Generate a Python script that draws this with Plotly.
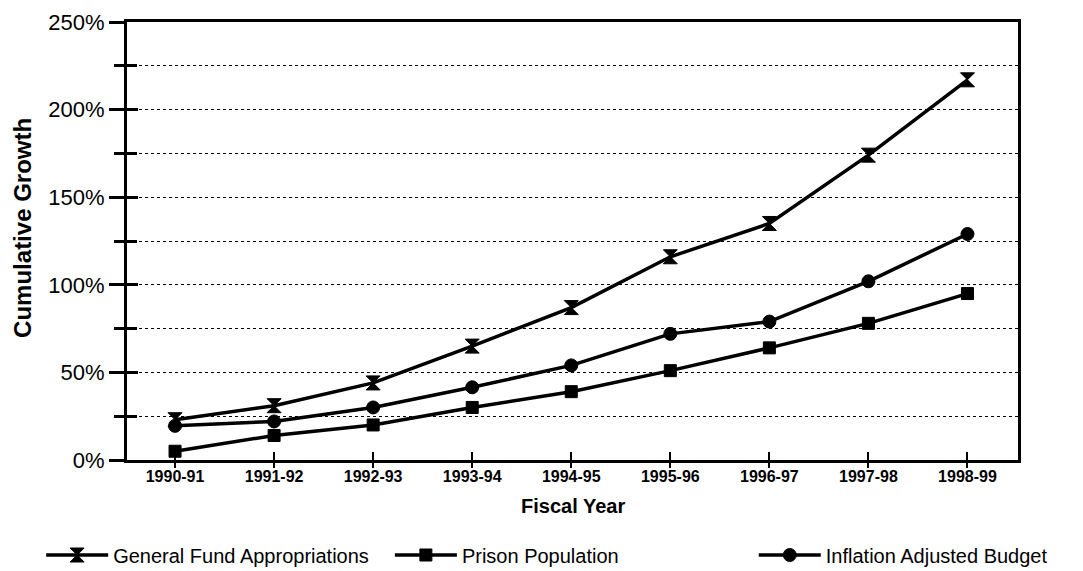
import plotly.graph_objects as go

years = ["1990-91", "1991-92", "1992-93", "1993-94", "1994-95",
         "1995-96", "1996-97", "1997-98", "1998-99"]
general_fund = [23, 31, 44, 65, 87, 116, 135, 174, 217]
prison_pop = [5, 14, 20, 30, 39, 51, 64, 78, 95]
inflation_adj = [19.5, 22, 30, 41.5, 54, 72, 79, 102, 129]

y_ticks = [0, 50, 100, 150, 200, 250]
y_tick_text = ["0%", "50%", "100%", "150%", "200%", "250%"]

FONT = "Liberation Sans, Arial, sans-serif"

fig = go.Figure()

# each series gets its own legend box so the three entries can sit apart
series = [
    ("General Fund Appropriations", general_fund, "hourglass", 14, "legend"),
    ("Prison Population", prison_pop, "square", 12, "legend2"),
    ("Inflation Adjusted Budget", inflation_adj, "circle", 13, "legend3"),
]
for name, vals, sym, size, leg in series:
    fig.add_trace(go.Scatter(
        x=list(range(len(years))), y=vals, name=name, mode="lines+markers",
        line=dict(color="black", width=3.5),
        marker=dict(symbol=sym, size=size, color="black",
                    line=dict(color="black", width=1)),
        legend=leg,
    ))

# second axis pair draws the other half of each crossing tick mark
fig.add_trace(go.Scatter(x=[0], y=[0], xaxis="x2", yaxis="y2",
                         mode="markers", marker=dict(opacity=0),
                         showlegend=False, hoverinfo="skip"))

xrange = [-0.485, 8.51]
yrange = [0, 250]

legend_common = dict(
    orientation="h", xref="container", yref="container", y=0.028,
    yanchor="middle", xanchor="left",
    font=dict(family=FONT, size=20, color="black"),
    itemwidth=62, bgcolor="rgba(0,0,0,0)",
)

fig.update_layout(
    width=1083, height=571,
    margin=dict(l=127, r=65, t=22, b=111, autoexpand=False),
    paper_bgcolor="white", plot_bgcolor="white",
    font=dict(family=FONT, color="black"),
    showlegend=True,
    legend=dict(legend_common, x=0.038),
    legend2=dict(legend_common, x=0.360),
    legend3=dict(legend_common, x=0.696),
    xaxis=dict(
        range=xrange, tickmode="array", tickvals=list(range(len(years))),
        ticktext=years, showline=True, linecolor="black", linewidth=3,
        mirror=True, ticks="inside", ticklen=8, tickwidth=2, tickcolor="black",
        tickfont=dict(family=FONT, size=16, color="black", weight="bold"),
        showgrid=False, zeroline=False,
    ),
    yaxis=dict(
        range=yrange, tickmode="array", tickvals=y_ticks, ticktext=y_tick_text,
        showline=True, linecolor="black", linewidth=3, mirror=True,
        ticks="outside", ticklen=15, tickwidth=3, tickcolor="black",
        tickfont=dict(family=FONT, size=22, color="black"),
        showgrid=True, gridcolor="black", gridwidth=1, griddash="dot",
        zeroline=False,
        minor=dict(dtick=25, tick0=0, ticks="outside", ticklen=10, tickwidth=3,
                   tickcolor="black", showgrid=True, gridcolor="black",
                   gridwidth=1, griddash="dot"),
    ),
    xaxis2=dict(
        range=xrange, overlaying="x", anchor="y", side="bottom",
        tickmode="array", tickvals=list(range(len(years))), ticks="outside",
        ticklen=7, tickwidth=2, tickcolor="black", showticklabels=False,
        showgrid=False, zeroline=False, showline=False,
    ),
    yaxis2=dict(
        range=yrange, overlaying="y", anchor="x", side="left",
        tickmode="array", tickvals=y_ticks, ticks="inside", ticklen=11,
        tickwidth=3, tickcolor="black", showticklabels=False,
        showgrid=False, zeroline=False, showline=False,
        minor=dict(dtick=25, tick0=0, ticks="inside", ticklen=10, tickwidth=3,
                   tickcolor="black"),
    ),
    annotations=[
        dict(text="<b>Fiscal Year</b>", xref="paper", yref="paper",
             x=0.5, y=-0.104, xanchor="center", yanchor="middle",
             showarrow=False, font=dict(family=FONT, size=20, color="black")),
        dict(text="<b>Cumulative Growth</b>", xref="paper", yref="paper",
             x=-0.1167, y=0.53, xanchor="center", yanchor="middle",
             textangle=-90, showarrow=False,
             font=dict(family=FONT, size=24, color="black")),
    ],
)

fig.write_html("out.html")
